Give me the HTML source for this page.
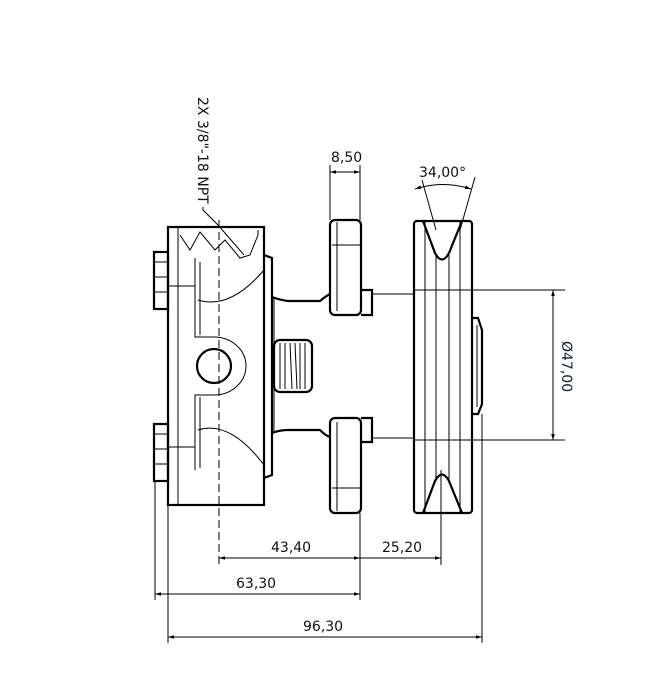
<!DOCTYPE html>
<html><head><style>body{margin:0;background:#fff}svg{display:block}text{font-family:"DejaVu Sans","Liberation Sans",sans-serif;font-size:14px;fill:#111}</style></head>
<body>
<svg width="654" height="688" viewBox="0 0 654 688" xmlns="http://www.w3.org/2000/svg">
<defs><marker id="a" viewBox="0 0 10 10" refX="10" refY="5" markerWidth="9" markerHeight="6" orient="auto-start-reverse"><path d="M0,2 L10,5 L0,8z" fill="#000"/></marker></defs>
<g fill="none" stroke="#000">
<g stroke-width="2.2">
<rect x="168" y="227" width="96" height="278"/>
<rect x="154" y="252" width="14" height="57"/>
<rect x="154" y="424" width="14" height="57"/>
<rect x="330" y="220" width="31" height="95" rx="5"/>
<rect x="330" y="418" width="31" height="95" rx="5"/>
<rect x="414" y="221" width="58" height="292" rx="3"/>
<rect x="274" y="340" width="38" height="52" rx="6"/>
<circle cx="214" cy="366" r="17"/>
<path d="M264 255 L272 258 L272 475 L264 478"/>
<path d="M272 297 Q280 300 288 301 L320 301 Q326 296 330 294"/>
<path d="M272 433 Q280 430 288 430 L320 430 Q326 436 330 437"/>
<path d="M361 290 L372 290 L372 315 L361 315"/>
<path d="M361 418 L372 418 L372 442 L361 442"/>
<path d="M472 318 L478 318 L482 330 L482 404 L478 414 L472 414"/>
<path d="M423 221 L435 253 Q442 266 449 253 L462 221"/>
<path d="M423 513 L435 481 Q442 468 449 481 L462 513"/>
</g>
<g stroke-width="1">
<line x1="178" y1="227" x2="178" y2="505"/>
<path d="M154 262 H168 M154 277 H168 M154 292 H168 M154 434 H168 M154 449 H168 M154 464 H168"/>
<path d="M168 286 H195 M168 447 H195"/>
<path d="M195 258 L195 337 L214 337 A32 29 0 0 1 214 395 L195 395 L195 470"/>
<path d="M200 262 L200 335 M200 397 L200 468"/>
<path d="M198 300 Q230 310 264 270 M198 430 Q230 420 264 465"/>
<path d="M180 235 L190 250 L200 232 L215 250 L225 240 L240 258 L250 255 L258 235 L258 230"/>
<line x1="274" y1="297" x2="274" y2="433"/>
<line x1="337" y1="222" x2="337" y2="311"/><line x1="337" y1="422" x2="337" y2="511"/>
<line x1="332" y1="245" x2="361" y2="245"/><line x1="332" y1="488" x2="361" y2="488"/>
<path d="M280 343 L280 389 M285 343 L285 389 M290 343 L292 389 M295 343 L297 389 M300 343 L300 389 M305 343 L305 389"/>
<line x1="425" y1="221" x2="425" y2="513"/><line x1="460" y1="221" x2="460" y2="513"/>
<line x1="436" y1="255" x2="436" y2="479"/><line x1="449" y1="255" x2="449" y2="479"/>
<line x1="372" y1="294" x2="414" y2="294"/><line x1="372" y1="438" x2="414" y2="438"/>
<line x1="477" y1="325" x2="477" y2="407"/>
<line x1="414" y1="290" x2="565" y2="290"/><line x1="414" y1="440" x2="565" y2="440"/>
<line x1="155" y1="481" x2="155" y2="600"/>
<line x1="168" y1="505" x2="168" y2="643"/>
<line x1="360" y1="513" x2="360" y2="600"/>
<line x1="441" y1="470" x2="441" y2="565"/>
<line x1="482" y1="414" x2="482" y2="643"/>
<line x1="330" y1="165" x2="330" y2="220"/><line x1="360" y1="165" x2="360" y2="220"/>
<line x1="422" y1="180" x2="436" y2="230"/><line x1="475" y1="177" x2="460" y2="230"/>
<line x1="219" y1="220" x2="219" y2="565" stroke-dasharray="8,4"/>
<line x1="330" y1="172" x2="360" y2="172" marker-start="url(#a)" marker-end="url(#a)"/>
<path d="M415 189 Q443 180 471 189" marker-start="url(#a)" marker-end="url(#a)"/>
<line x1="553" y1="290" x2="553" y2="440" marker-start="url(#a)" marker-end="url(#a)"/>
<line x1="219" y1="558" x2="360" y2="558" marker-start="url(#a)" marker-end="url(#a)"/>
<line x1="360" y1="558" x2="441" y2="558" marker-end="url(#a)"/>
<line x1="155" y1="594" x2="360" y2="594" marker-start="url(#a)" marker-end="url(#a)"/>
<line x1="168" y1="637" x2="482" y2="637" marker-start="url(#a)" marker-end="url(#a)"/>
<path d="M203 207 L203 210 L218 225 L244 255"/>
</g>
</g>
<text x="331" y="162">8,50</text>
<text x="419" y="177">34,00°</text>
<text x="271" y="552">43,40</text>
<text x="382" y="552">25,20</text>
<text x="236" y="588">63,30</text>
<text x="303" y="631">96,30</text>
<text transform="translate(562,341) rotate(90)" style="fill:#123">Ø47,00</text>
<text transform="translate(198,97) rotate(90)">2X 3/8"-18 NPT</text>
</svg>
</body></html>
